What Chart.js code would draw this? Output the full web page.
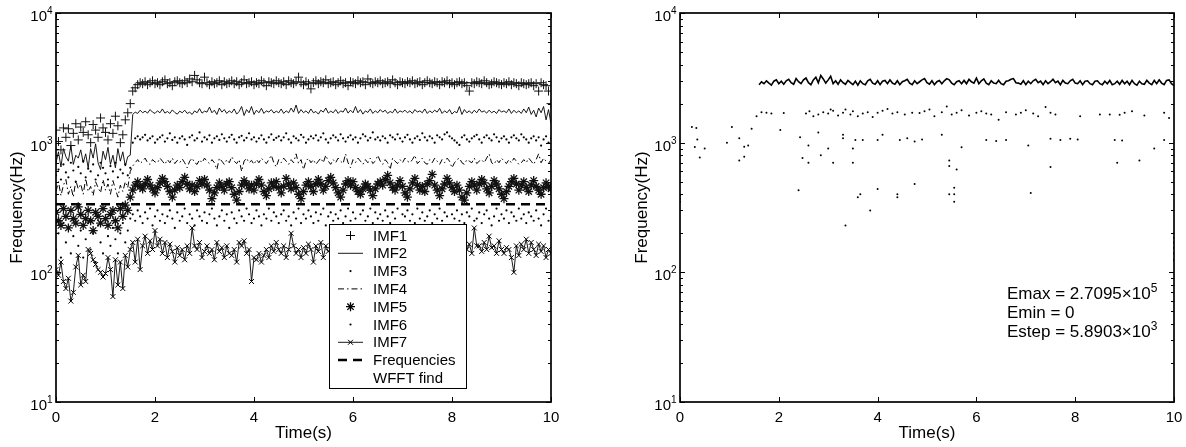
<!DOCTYPE html>
<html>
<head>
<meta charset="utf-8">
<script src="https://cdn.jsdelivr.net/npm/chart.js@4.4.1/dist/chart.umd.min.js"></script>
<style>
  body { margin: 0; background: #fff; }
  #wrap { position: relative; width: 1186px; height: 447px; }
  canvas { position: absolute; top: 0; }
  #left { left: 0; }
  #right { left: 593px; }
</style>
</head>
<body>
<div id="wrap">
  <canvas id="left" width="593" height="447"></canvas>
  <canvas id="right" width="593" height="447"></canvas>
</div>
<script>
// sample spacing of the IMF tracks (s) and where the right-hand band starts
const timeStep = 0.05;
const bandStart = 1.6;
const xTicks = [0, 2, 4, 6, 8, 10];
const yDecades = [1, 2, 3, 4];
const wfftFreq = 335;

// instantaneous frequency (Hz) of each IMF, one value per timeStep from 0 to 10 s
const imf1 = [1250, 1020, 880, 1300, 1100, 1280, 950, 1180, 1400, 1050,
  1320, 1200, 1450, 1150, 1000, 1380, 1250, 1100, 1550, 1300,
  1200, 1050, 1400, 1180, 1600, 1350, 1000, 1150, 1500, 1700, 2000,
  2500, 2650, 2800, 2900, 2850, 2950, 2800, 2900, 3000, 2850,
  2900, 2800, 2950, 3050, 2850, 2900, 2750, 2950, 3000, 2900,
  2850, 3000, 2900, 3100, 2950, 3300, 3050, 2900, 2850, 3200,
  2900, 2800, 2950, 2850, 2900, 3000, 2800, 2950, 2850, 2900,
  3000, 2850, 2950, 2800, 2900, 3050, 2850, 2900, 2950, 2800,
  2900, 2850, 3000, 2900, 2750, 2950, 2900, 2850, 3000, 2900,
  2850, 2950, 2800, 3000, 2900, 2850, 2950, 3200, 2900, 2800,
  2950, 2850, 2600, 2900, 3000, 2850, 2950, 2900, 3050, 2850,
  2900, 2950, 2800, 2900, 3000, 2850, 2900, 2750, 2950, 2900,
  2850, 3000, 2900, 2950, 2800, 3100, 2900, 2850, 2950, 2900,
  3000, 2850, 2900, 2950, 2850, 3050, 2900, 2800, 2950, 2900,
  2850, 2950, 2900, 3000, 2850, 2900, 2950, 2800, 2900, 3000,
  2900, 2850, 2950, 2900, 2800, 2950, 2900, 3000, 2850, 2900,
  2800, 2900, 2950, 2850, 2900, 2750, 2500, 2900, 2850, 2950,
  2900, 2850, 3000, 2900, 2800, 2850, 2950, 2900, 2850, 2800,
  2900, 2850, 2950, 2800, 2900, 2850, 2750, 2900, 2850, 2800,
  2850, 2900, 2750, 2850, 2500, 2900, 2800, 2750, 2500, 2000];

const imf2 = [700, 850, 650, 900, 780, 720, 950, 680, 800, 760,
  880, 700, 820, 640, 900, 760, 980, 700, 620, 860,
  740, 920, 680, 800, 640, 900, 720, 850, 660, 780, 800,
  1650, 1720, 1680, 1780, 1700, 1750, 1690, 1800, 1720, 1680,
  1760, 1700, 1820, 1690, 1740, 1680, 1790, 1710, 1660, 1750,
  1700, 1780, 1680, 1720, 1650, 1760, 1700, 1830, 1690, 1750,
  1720, 1880, 1700, 1780, 1650, 1850, 1720, 1800, 1680, 1760,
  1700, 1820, 1660, 1740, 1900, 1620, 1800, 1700, 1900, 1650,
  1780, 1700, 1840, 1680, 1760, 1720, 1800, 1690, 1750, 1700,
  1820, 1680, 1760, 1700, 1850, 1720, 1950, 1680, 1800, 1700,
  1760, 1680, 1820, 1700, 1740, 1660, 1780, 1720, 1850, 1690,
  1750, 1700, 1800, 1680, 1760, 1720, 1850, 1690, 1780, 1700,
  1900, 1700, 1800, 1660, 1760, 1710, 1820, 1680, 1760, 1700,
  1800, 1720, 1780, 1680, 1740, 1700, 1820, 1690, 1760, 1720,
  1780, 1700, 1760, 1680, 1800, 1720, 1760, 1700, 1820, 1680,
  1760, 1700, 1780, 1720, 1840, 1680, 1760, 1700, 1800, 1660,
  1740, 1700, 1900, 1650, 1800, 1700, 1760, 1680, 1780, 1700,
  1820, 1720, 1760, 1690, 1780, 1700, 1750, 1680, 1800, 1720,
  1760, 1700, 1820, 1680, 1780, 1700, 1760, 1680, 1820, 1700,
  1880, 1650, 1780, 1580, 1850, 1700, 1900, 1500, 1800, 1400];

const imf3 = [560, 620, 520, 680, 590, 540, 700, 610, 500, 650,
  580, 720, 540, 630, 600, 680, 520, 560, 700, 640,
  580, 520, 660, 600, 700, 540, 620, 580, 680, 560, 640,
  1000, 1080, 1120, 1060, 1100, 1150, 1040, 1080, 1120, 1000,
  1060, 1100, 1140, 1020, 1080, 1180, 1050, 1100, 1000, 1080,
  1120, 1060, 960, 1100, 1140, 1040, 1080, 1200, 1020, 1100,
  1060, 1140, 1000, 1080, 1120, 1050, 1160, 1080, 1020, 1100,
  1150, 1060, 1000, 1100, 1130, 1040, 1090, 1180, 1060, 1100,
  1020, 1080, 1140, 1060, 1000, 1100, 1160, 1050, 1090, 1120,
  1040, 1100, 1180, 1060, 1000, 1120, 1080, 1040, 1150, 1100,
  1000, 1060, 1120, 1080, 1140, 1040, 1100, 1180, 1060, 1000,
  1080, 1140, 1100, 1040, 1160, 1080, 1020, 1100, 1140, 1060,
  1100, 1000, 1080, 1160, 1120, 1040, 1090, 1200, 1060, 1100,
  1040, 1120, 1080, 1000, 1140, 1100, 1060, 1160, 1080, 1020,
  1100, 1150, 1060, 1000, 1080, 1120, 1050, 1180, 1100, 1040,
  1120, 1080, 1000, 1140, 1100, 1060, 1160, 1200, 1120, 1080,
  1040, 1000, 960, 1100, 1140, 1060, 1020, 1080, 1120, 1150,
  1060, 1000, 1100, 1140, 1080, 1040, 1160, 1100, 1020, 1080,
  1120, 1060, 1000, 1100, 1140, 1080, 1040, 1160, 1100, 1060,
  1000, 1080, 1120, 1040, 1100, 950, 1060, 1120, 1000, 1080];

const imf4 = [420, 500, 390, 470, 520, 400, 460, 380, 510, 440,
  480, 400, 530, 420, 460, 390, 500, 450, 410, 520,
  430, 480, 400, 510, 440, 380, 470, 420, 500, 450, 600,
  660, 700, 740, 690, 720, 760, 700, 680, 740, 710,
  700, 760, 720, 680, 740, 700, 760, 690, 730, 700,
  750, 700, 640, 720, 760, 700, 680, 740, 700, 760,
  720, 690, 740, 700, 620, 760, 720, 680, 740, 700,
  780, 720, 690, 740, 600, 720, 760, 700, 730, 680,
  740, 700, 760, 720, 690, 740, 800, 700, 650, 740,
  700, 760, 720, 680, 740, 700, 820, 690, 740, 620,
  720, 760, 700, 740, 680, 720, 760, 700, 800, 720,
  680, 740, 700, 760, 720, 690, 820, 700, 640, 740,
  700, 760, 720, 680, 740, 700, 760, 690, 720, 800,
  720, 680, 740, 700, 620, 760, 720, 690, 740, 700,
  760, 720, 700, 740, 800, 690, 720, 760, 700, 680,
  740, 700, 760, 720, 680, 740, 700, 760, 720, 640,
  700, 740, 760, 700, 680, 740, 720, 700, 760, 690,
  720, 740, 700, 760, 820, 700, 680, 740, 700, 760,
  720, 690, 740, 700, 760, 720, 680, 700, 740, 700,
  760, 720, 680, 740, 820, 700, 760, 720, 690, 740];

const imf5 = [290, 250, 230, 310, 270, 220, 300, 260, 240, 320,
  280, 230, 260, 300, 250, 210, 290, 270, 240, 310,
  260, 230, 280, 300, 250, 220, 310, 270, 330, 300, 380,
  430, 470, 500, 460, 440, 480, 520, 470, 440, 410,
  450, 490, 530, 500, 460, 420, 380, 430, 470, 450,
  500, 540, 480, 440, 470, 420, 460, 510, 480, 520,
  470, 430, 370, 410, 450, 490, 460, 430, 480, 500,
  450, 400, 360, 420, 470, 510, 480, 440, 470, 430,
  480, 520, 470, 420, 390, 440, 490, 460, 500, 450,
  410, 460, 530, 480, 440, 490, 450, 400, 370, 420,
  470, 500, 460, 420, 480, 520, 480, 430, 460, 510,
  540, 490, 450, 410, 380, 430, 480, 510, 470, 500,
  450, 420, 400, 440, 480, 460, 430, 390, 440, 480,
  500, 470, 520, 560, 490, 450, 430, 470, 510, 460,
  410, 380, 440, 490, 530, 470, 430, 460, 420, 480,
  510, 570, 470, 430, 390, 440, 480, 530, 490, 450,
  420, 470, 430, 380, 360, 410, 460, 500, 470, 430,
  480, 520, 490, 440, 410, 460, 510, 480, 440, 400,
  370, 420, 460, 500, 530, 480, 430, 470, 500, 450,
  420, 470, 510, 460, 430, 400, 450, 490, 460, 440];

const imf6 = [150, 200, 130, 240, 170, 220, 140, 190, 260, 160,
  210, 130, 180, 240, 150, 200, 120, 230, 170, 140,
  250, 190, 160, 220, 180, 140, 200, 240, 170, 210, 260,
  280, 250, 300, 270, 240, 290, 260, 310, 230, 270,
  300, 250, 280, 240, 270, 300, 260, 220, 290, 250,
  270, 310, 240, 280, 260, 230, 300, 270, 250, 290,
  240, 280, 310, 260, 230, 270, 300, 250, 280, 220,
  290, 260, 240, 300, 270, 250, 310, 280, 240, 260,
  300, 270, 230, 280, 260, 310, 250, 290, 270, 240,
  280, 300, 250, 270, 230, 290, 260, 310, 240, 280,
  260, 300, 270, 240, 290, 250, 280, 310, 230, 270,
  290, 250, 280, 260, 300, 240, 270, 310, 250, 290,
  260, 230, 280, 300, 250, 270, 310, 240, 290, 260,
  280, 250, 300, 270, 240, 290, 260, 310, 230, 280,
  270, 300, 250, 280, 240, 310, 260, 290, 250, 270,
  300, 240, 280, 260, 310, 250, 290, 270, 230, 280,
  260, 300, 250, 280, 240, 290, 270, 310, 250, 260,
  290, 240, 280, 300, 260, 230, 270, 310, 250, 280,
  260, 300, 240, 290, 270, 250, 310, 260, 280, 240,
  290, 270, 250, 300, 260, 230, 280, 310, 250, 270];

const imf7 = [105, 95, 120, 85, 75, 90, 60, 70, 110, 135,
  80, 95, 85, 150, 140, 125, 115, 105, 100, 92,
  98, 130, 105, 65, 125, 80, 120, 75, 135, 110, 150,
  170, 120, 180, 105, 160, 190, 140, 175, 150, 210,
  160, 180, 140, 170, 130, 165, 145, 120, 155, 135,
  150, 125, 160, 140, 220, 160, 150, 170, 130, 145,
  160, 140, 150, 125, 170, 145, 155, 130, 160, 140,
  135, 150, 120, 170, 160, 175, 140, 150, 85, 130,
  125, 140, 120, 135, 150, 130, 160, 145, 170, 150,
  140, 160, 130, 150, 200, 160, 140, 150, 130, 155,
  140, 165, 150, 120, 160, 145, 170, 130, 160, 145,
  150, 170, 140, 160, 135, 150, 165, 140, 155, 145,
  130, 150, 170, 140, 160, 125, 150, 145, 165, 140,
  155, 170, 150, 130, 160, 140, 175, 150, 135, 160,
  145, 165, 150, 130, 160, 140, 155, 130, 150, 145,
  160, 140, 165, 135, 150, 120, 155, 140, 165, 150,
  135, 160, 145, 155, 170, 150, 165, 140, 220, 160,
  160, 145, 170, 150, 190, 155, 160, 140, 175, 150,
  140, 155, 150, 130, 100, 160, 135, 165, 150, 180,
  140, 170, 150, 135, 165, 145, 160, 130, 150, 140];

// right panel: dominant energy ridge (from bandStart) and scattered points [t, Hz]
const ridge = [2800, 2950, 2850, 3000, 2880, 2780, 2980, 3050, 2850,
  2980, 2820, 3000, 3080, 2900, 2820, 3120, 2950, 2850, 3050,
  3150, 2900, 2800, 3050, 3200, 2900, 3300, 3100, 2880, 3050,
  3250, 2850, 3000, 2820, 3050, 2900, 2820, 3020, 2900, 2800,
  2980, 2780, 3000, 2850, 2800, 3000, 3080, 2880, 2820, 3000,
  2800, 2980, 3020, 2850, 3050, 2880, 2820, 3000, 2800, 2950,
  3000, 3080, 2880, 2800, 3000, 2850, 2950, 3050, 3120, 2900,
  2820, 3000, 2800, 2950, 3020, 2850, 3000, 3120, 3050, 2880,
  2800, 2950, 3000, 2850, 3020, 2850, 3080, 2950, 2880, 3150,
  2850, 3000, 3100, 2880, 2800, 3000, 2880, 2850, 3020, 2850,
  2800, 2980, 3000, 3080, 3120, 2900, 2880, 2820, 3000, 2800,
  2980, 2850, 3000, 3080, 2900, 2980, 2800, 3000, 2850, 2950,
  3080, 2900, 2980, 2800, 3020, 2880, 2850, 3000, 3080, 2880,
  2850, 3000, 2800, 2980, 3000, 2850, 2800, 2980, 3000, 2850,
  2800, 2980, 2850, 3020, 2800, 2850, 2980, 2820, 3020, 2850,
  2980, 2800, 3020, 2850, 2780, 2980, 2850, 2820, 3020, 2880,
  2800, 3020, 2850, 3050, 2880, 2800, 3020, 3050, 2850, 2750];

const scatterPts = [
  [1.65, 1720], [1.75, 1700], [1.85, 1680], [2.1, 1690], [2.55, 1680], [2.62, 1750], [2.7, 1600],
  [2.8, 1650], [2.9, 1720], [3.0, 1680], [3.05, 1800], [3.1, 1760], [3.2, 1620], [3.3, 1700],
  [3.35, 1800], [3.45, 1650], [3.5, 1750], [3.6, 1600], [3.7, 1680], [3.8, 1720], [3.9, 1580],
  [4.0, 1700], [4.1, 1760], [4.2, 1820], [4.3, 1680], [4.4, 1720], [4.55, 1650], [4.7, 1700],
  [4.85, 1690], [4.95, 1750], [5.05, 1800], [5.15, 1600], [5.3, 1720], [5.4, 1900], [5.5, 1650],
  [5.6, 1700], [5.7, 1780], [5.85, 1620], [6.0, 1700], [6.1, 1750], [6.2, 1680], [6.3, 1650],
  [6.45, 1500], [6.6, 1720], [6.8, 1650], [6.9, 1700], [7.0, 1780], [7.15, 1680], [7.25, 1600],
  [7.4, 1880], [7.5, 1700], [7.6, 1650], [8.1, 1600], [8.5, 1650], [8.7, 1650], [8.9, 1640],
  [9.0, 1700], [9.15, 1750], [9.4, 1620], [9.8, 1700], [9.9, 1550],
  [0.24, 1320], [0.33, 1300], [0.35, 1060], [0.3, 925], [0.5, 900], [0.4, 770], [0.95, 1000],
  [1.05, 1320], [1.2, 1080], [1.2, 730], [1.3, 930], [1.38, 950], [1.45, 1280], [1.3, 780],
  [1.55, 1600], [2.03, 1250], [2.43, 1100], [2.6, 950], [2.48, 760], [2.6, 700], [2.8, 1200],
  [3.0, 900], [2.85, 800], [3.1, 700], [3.3, 1150], [3.3, 1080], [3.5, 900], [3.5, 700],
  [3.55, 1050], [3.7, 1050], [4.0, 1050], [4.1, 1150], [4.45, 1050], [4.6, 1080], [4.75, 1020],
  [4.9, 1060], [5.3, 1150], [5.7, 920], [6.2, 1050], [6.4, 1030], [6.6, 1050], [7.05, 950],
  [7.5, 1070], [7.7, 1050], [7.9, 1070], [8.05, 1060], [8.8, 1050], [8.95, 1040], [9.6, 900],
  [9.8, 1050],
  [5.45, 730], [5.45, 660], [5.6, 620], [8.85, 700], [9.3, 730], [7.5, 650],
  [2.4, 430], [3.6, 380], [3.65, 400], [3.85, 300], [4.0, 440], [3.35, 230], [4.4, 400],
  [4.4, 380], [4.75, 480], [5.45, 400], [5.55, 450], [5.55, 400], [5.55, 350], [7.1, 410],
  [0, 350], [0, 370], [0, 390], [10, 125], [10, 140], [10, 155], [10, 170], [10, 185], [10, 200]
];

const energyNotes = [
  ['Emax = 2.7095\u00d710', '5'],
  ['Emin = 0', ''],
  ['Estep = 5.8903\u00d710', '3']
];

const legendRows = [
  { label: 'IMF1', ds: 0 }, { label: 'IMF2', ds: 1 }, { label: 'IMF3', ds: 2 },
  { label: 'IMF4', ds: 3 }, { label: 'IMF5', ds: 4 }, { label: 'IMF6', ds: 5 },
  { label: 'IMF7', ds: 6 }, { label: 'Frequencies', ds: 7 }, { label: 'WFFT find', ds: -1 }
];

const FONT = '"Liberation Sans", Arial, Helvetica, sans-serif';
const track = (arr, t0) => arr.map((f, i) => ({ x: t0 + i * timeStep, y: f }));

function drawLegend(chart, ctx) {
  const bx = 329, by = 224, bw = 137, bh = 164;
  ctx.fillStyle = '#fff';
  ctx.fillRect(bx, by, bw, bh);
  ctx.lineWidth = 1;
  ctx.strokeStyle = '#000';
  ctx.strokeRect(bx + 0.5, by + 0.5, bw, bh);
  legendRows.forEach((r, i) => {
    const cy = by + 11.5 + i * 17.8;
    ctx.fillStyle = '#000';
    ctx.strokeStyle = '#000';
    if (r.ds >= 0) {
      const ds = chart.data.datasets[r.ds];
      if (ds.showLine) {
        ctx.save();
        ctx.lineWidth = ds.borderWidth;
        ctx.setLineDash(ds.borderDash || []);
        ctx.beginPath();
        ctx.moveTo(338, cy);
        ctx.lineTo(363, cy);
        ctx.stroke();
        ctx.restore();
      }
      if (ds.pointRadius > 0) {
        ctx.lineWidth = ds.pointBorderWidth || 1;
        Chart.helpers.drawPoint(ctx, {
          pointStyle: ds.pointStyle, radius: ds.pointRadius,
          rotation: 0, borderWidth: ds.pointBorderWidth || 0
        }, 350.5, cy);
      }
    }
    ctx.fillStyle = '#000';
    ctx.font = '15px ' + FONT;
    ctx.textAlign = 'left';
    ctx.textBaseline = 'middle';
    ctx.fillText(r.label, 373, cy + 1);
  });
}

function drawNotes(ctx) {
  ctx.fillStyle = '#000';
  ctx.textAlign = 'left';
  ctx.textBaseline = 'alphabetic';
  energyNotes.forEach((n, i) => {
    const yb = 299 + i * 19;
    ctx.font = '17px ' + FONT;
    ctx.fillText(n[0], 414, yb);
    const w = ctx.measureText(n[0]).width;
    if (n[1]) {
      ctx.font = '12px ' + FONT;
      ctx.fillText(n[1], 414 + w, yb - 7);
    }
  });
}

const matlabAxes = {
  id: 'matlabAxes',
  afterDraw(chart) {
    const { ctx, chartArea: a, scales: { x, y } } = chart;
    const o = chart.options.plugins.matlabAxes;
    ctx.save();
    if (o.legend) drawLegend(chart, ctx);
    if (o.notes) drawNotes(ctx);

    ctx.strokeStyle = '#000';
    ctx.lineWidth = 1;
    ctx.beginPath();
    xTicks.forEach(t => {
      const px = Math.round(x.getPixelForValue(t)) + 0.5;
      ctx.moveTo(px, a.bottom); ctx.lineTo(px, a.bottom - 5);
      ctx.moveTo(px, a.top); ctx.lineTo(px, a.top + 5);
    });
    yDecades.forEach(k => {
      for (let d = 1; d <= 9; d++) {
        if (k === 4 && d > 1) break;
        const py = Math.round(y.getPixelForValue(d * Math.pow(10, k))) + 0.5;
        const len = d === 1 ? 5 : 3;
        ctx.moveTo(a.left, py); ctx.lineTo(a.left + len, py);
        ctx.moveTo(a.right, py); ctx.lineTo(a.right - len, py);
      }
    });
    ctx.stroke();
    ctx.lineWidth = 1.7;
    ctx.strokeRect(a.left, a.top, a.right - a.left, a.bottom - a.top);

    ctx.fillStyle = '#000';
    ctx.textBaseline = 'alphabetic';
    yDecades.forEach(k => {
      const py = y.getPixelForValue(Math.pow(10, k));
      ctx.font = '15px ' + FONT;
      ctx.textAlign = 'right';
      ctx.fillText('10', a.left - 9, py + 8);
      ctx.font = '10px ' + FONT;
      ctx.textAlign = 'left';
      ctx.fillText(String(k), a.left - 9, py + 1);
    });

    ctx.font = '17px ' + FONT;
    ctx.textAlign = 'center';
    ctx.fillText('Time(s)', (a.left + a.right) / 2, 438);
    ctx.save();
    ctx.translate(o.yTitleX, (a.top + a.bottom) / 2);
    ctx.rotate(-Math.PI / 2);
    ctx.textBaseline = 'middle';
    ctx.fillText('Frequency(Hz)', 0, 0);
    ctx.restore();
    ctx.restore();
  }
};

function baseOptions(pad, extra) {
  return {
    responsive: false,
    animation: false,
    events: [],
    layout: { padding: pad },
    plugins: { legend: { display: false }, tooltip: { enabled: false }, matlabAxes: extra },
    scales: {
      x: {
        type: 'linear', min: 0, max: 10,
        grid: { display: false }, border: { display: false },
        afterBuildTicks: s => { s.ticks = xTicks.map(v => ({ value: v })); },
        afterFit: s => { s.height = 45; },
        ticks: { color: '#000', padding: -1, maxRotation: 0, font: { size: 15, family: FONT } }
      },
      y: {
        type: 'logarithmic', min: 10, max: 10000,
        grid: { display: false }, border: { display: false },
        ticks: { display: false },
        afterFit: s => { s.width = 56; }
      }
    }
  };
}

Chart.register(matlabAxes);

new Chart(document.getElementById('left'), {
  type: 'scatter',
  data: {
    datasets: [
      { label: 'IMF1', data: track(imf1, 0), showLine: false, pointStyle: 'cross', pointRadius: 4.5,
        pointBorderWidth: 1, borderColor: '#111', backgroundColor: '#111' },
      { label: 'IMF2', data: track(imf2, 0), showLine: true, borderWidth: 0.9, borderColor: '#000',
        pointRadius: 0 },
      { label: 'IMF3', data: track(imf3, 0), showLine: false, pointStyle: 'circle', pointRadius: 1.1,
        pointBorderWidth: 0, backgroundColor: '#000', borderColor: '#000' },
      { label: 'IMF4', data: track(imf4, 0), showLine: true, borderWidth: 1, borderColor: '#000',
        borderDash: [6, 3, 1.5, 3], pointRadius: 0 },
      { label: 'IMF5', data: track(imf5, 0), showLine: false, pointStyle: 'star', pointRadius: 4.5,
        pointBorderWidth: 1.3, borderColor: '#111', backgroundColor: '#111' },
      { label: 'IMF6', data: track(imf6, 0), showLine: false, pointStyle: 'circle', pointRadius: 1.1,
        pointBorderWidth: 0, backgroundColor: '#000', borderColor: '#000' },
      { label: 'IMF7', data: track(imf7, 0), showLine: true, borderWidth: 0.9, borderColor: '#000',
        pointStyle: 'crossRot', pointRadius: 3.5, pointBorderWidth: 1, backgroundColor: '#000' },
      { label: 'Frequencies WFFT find', data: [{ x: 0, y: wfftFreq }, { x: 10, y: wfftFreq }],
        showLine: true, borderWidth: 2.5, borderColor: '#000', borderDash: [9, 6], pointRadius: 0 }
    ]
  },
  options: baseOptions({ left: 0, right: 42, top: 13, bottom: 0 }, { legend: true, yTitleX: 17 })
});

new Chart(document.getElementById('right'), {
  type: 'scatter',
  data: {
    datasets: [
      { label: 'ridge', data: track(ridge, bandStart), showLine: true, borderWidth: 1.6,
        borderColor: '#000', pointRadius: 0 },
      { label: 'scatter', data: scatterPts.map(p => ({ x: p[0], y: p[1] })), showLine: false,
        pointStyle: 'circle', pointRadius: 1, pointBorderWidth: 0, backgroundColor: '#000' }
    ]
  },
  options: baseOptions({ left: 31, right: 12, top: 13, bottom: 0 }, { notes: true, yTitleX: 49 })
});
</script>
</body>
</html>
